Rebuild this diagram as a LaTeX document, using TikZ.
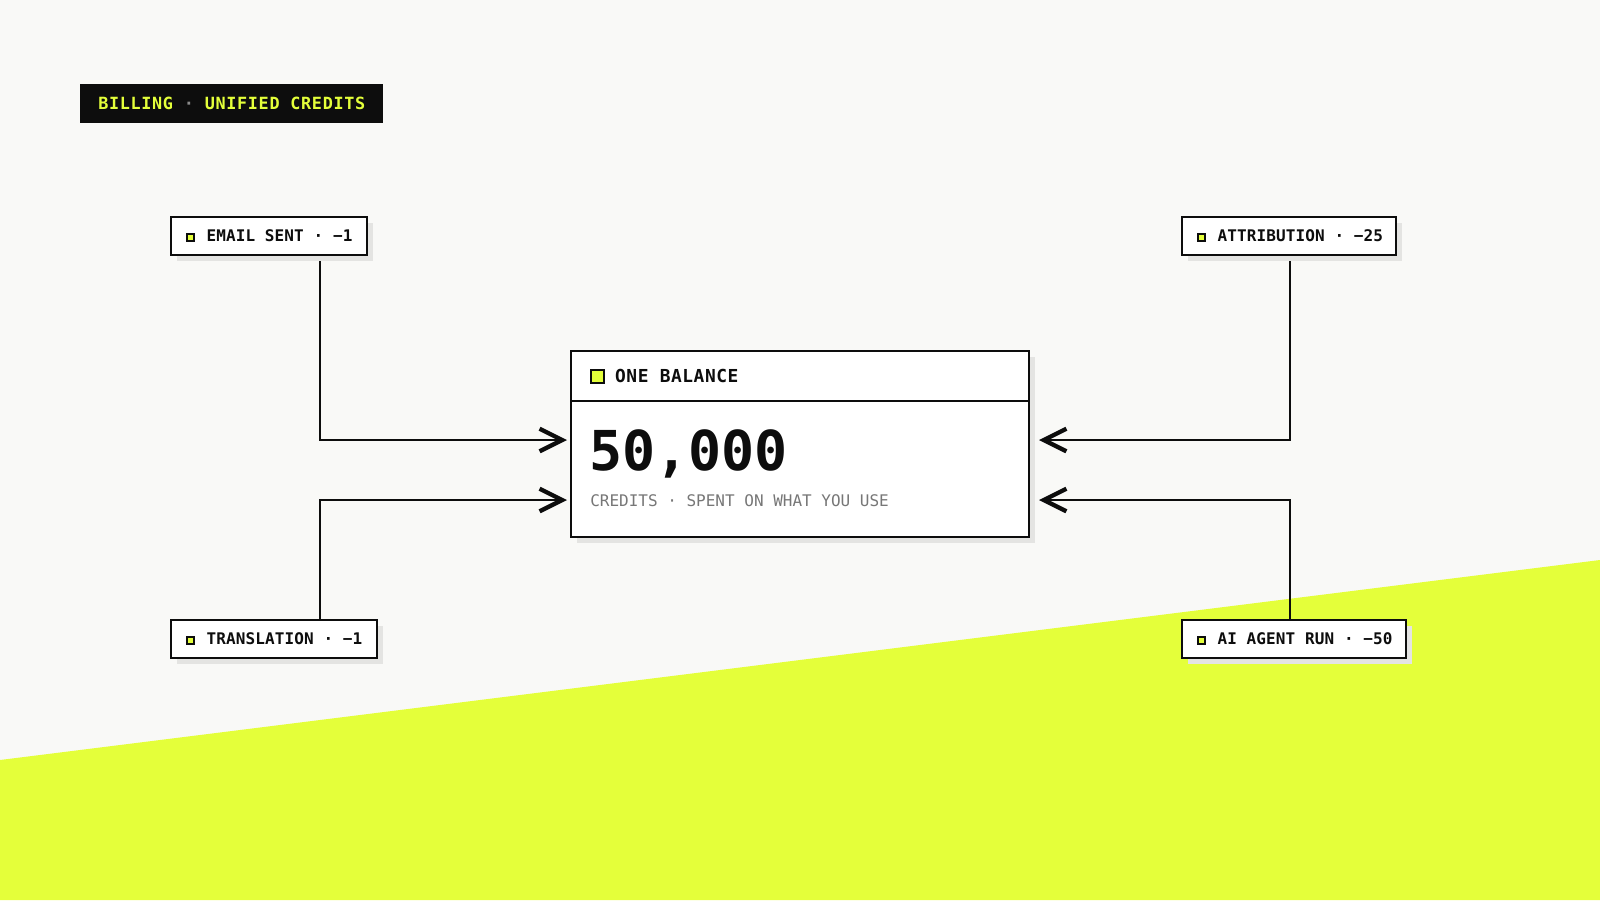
\documentclass[tikz,border=0pt]{standalone}
\usepackage{fontspec}
\newfontfamily\mono{DejaVu Sans Mono}
\newfontfamily\monotitle[LetterSpace=4]{DejaVu Sans Mono}
\newfontfamily\monotag[LetterSpace=0.8]{DejaVu Sans Mono}
\newfontfamily\monohead[LetterSpace=3]{DejaVu Sans Mono}
\usetikzlibrary{arrows.meta,shadows}
\definecolor{bg}{HTML}{F9F9F7}
\definecolor{acc}{HTML}{E4FF3A}
\definecolor{ink}{HTML}{0D0D0D}
\definecolor{shad}{HTML}{E4E4E2}
\definecolor{mute}{HTML}{777777}
\definecolor{dotgray}{HTML}{8A8A8A}
\newcommand\sqicon[2]{{\setlength\fboxsep{0pt}\setlength\fboxrule{#2}\fcolorbox{ink}{acc}{\rule{0pt}{#1}\hspace*{#1}}}}
\newcommand\taglabel[2]{\makebox[#1][l]{\raisebox{1.1pt}{\sqicon{3.4pt}{1.5pt}}\hspace{9pt}#2}}
\tikzset{
  x=0.75pt, y=-0.75pt,
  boxshadow/.style={general shadow={fill=shad, shadow xshift=4.5pt, shadow yshift=-4.5pt}},
  tagbox/.style={draw=ink, line width=1.5pt, fill=white, boxshadow, anchor=north west,
    minimum height=28.2pt, inner xsep=11.25pt, inner ysep=0pt, text=ink,
    font=\monotag\bfseries\fontsize{12}{14}\selectfont},
  conn/.style={draw=ink, line width=1.5pt,
    -{Straight Barb[length=17pt,width=17pt,line width=3.2pt]}},
}
\begin{document}
\begin{tikzpicture}
\useasboundingbox (0,0) rectangle (1600,900);
\fill[bg] (0,0) rectangle (1600,900);
\fill[acc] (0,760) -- (1600,560) -- (1600,900) -- (0,900) -- cycle;

% title
\node[fill=ink, anchor=north west, minimum width=227.25pt, minimum height=29.25pt, inner sep=0pt,
  text=acc, font=\monotitle\bfseries\fontsize{12.6}{14}\selectfont] (title) at (80,84)
  {BILLING {\color{dotgray}·} UNIFIED CREDITS};

% connector coordinates
\coordinate (e0) at (320,261);
\coordinate (e1) at (567,440);
\coordinate (t0) at (320,659);
\coordinate (t1) at (567,500);
\coordinate (a0) at (1290,261);
\coordinate (a1) at (1039,440);
\coordinate (g0) at (1290,659);
\coordinate (g1) at (1039,500);

\draw[conn] (e0) |- (e1);
\draw[conn] (t0) |- (t1);
\draw[conn] (a0) |- (a1);
\draw[conn] (g0) |- (g1);

% source tags
\node[tagbox] (email) at (170,216) {\taglabel{124.5pt}{EMAIL SENT · −1}};
\node[tagbox] (attr) at (1181,216) {\taglabel{138pt}{ATTRIBUTION · −25}};
\node[tagbox] (trans) at (170,619) {\taglabel{132pt}{TRANSLATION · −1}};
\node[tagbox] (agent) at (1181,619) {\taglabel{145.5pt}{AI AGENT RUN · −50}};

% central balance
\node[draw=ink, line width=1.5pt, fill=white, boxshadow, anchor=north west,
  minimum width=343.5pt, minimum height=139.5pt, inner sep=0pt] (bal) at (570,350) {};
\coordinate (dv) at (0,401);
\draw[ink, line width=1.5pt] (bal.west |- dv) -- (bal.east |- dv);
\node[anchor=base west, inner sep=0pt, text=ink, font=\monohead\bfseries\fontsize{13.4}{15}\selectfont]
  (head) at (590,382) {\sqicon{8.2pt}{1.5pt}\hspace{7.5pt}ONE BALANCE};
\node[anchor=base west, inner sep=0pt, text=ink, font=\mono\bfseries\fontsize{41.25}{45}\selectfont]
  (amount) at (589,470) {50,000};
\node[anchor=base west, inner sep=0pt, text=mute, font=\mono\fontsize{12}{14}\selectfont]
  (sub) at (590,506) {CREDITS · SPENT ON WHAT YOU USE};
\end{tikzpicture}
\end{document}
